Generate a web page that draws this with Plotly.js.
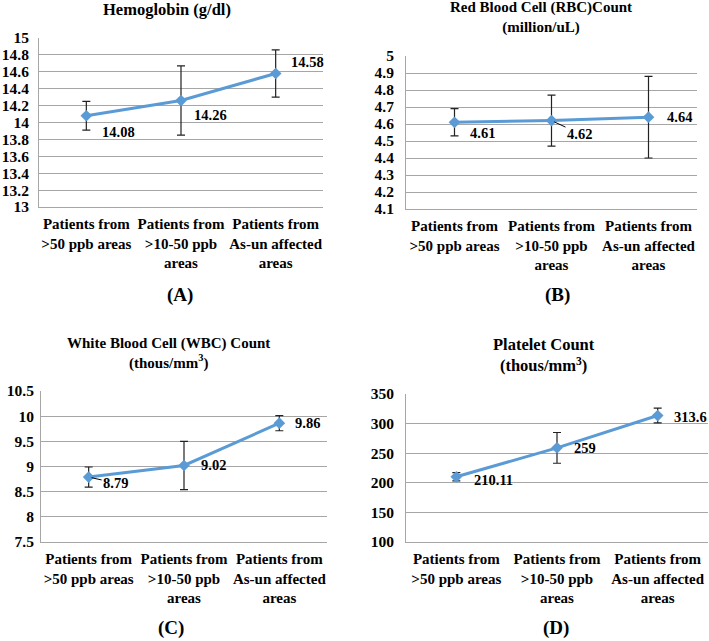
<!DOCTYPE html>
<html>
<head>
<meta charset="utf-8">
<script src="https://cdn.plot.ly/plotly-3.0.1.min.js"></script>
<style>html,body{margin:0;padding:0;background:#fff;}#chart{width:709px;height:641px;}</style>
</head>
<body>
<div id="chart"></div>
<script>
// ---- data ----
const categories = ["Patients from<br>&gt;50 ppb areas", "Patients from<br>&gt;10-50 ppb<br>areas", "Patients from<br>As-un affected<br>areas"];
const hemoglobin = [14.08, 14.26, 14.58];
const hemoglobinErr = [0.17, 0.41, 0.28];
const rbc = [4.61, 4.62, 4.64];
const rbcErr = [0.08, 0.15, 0.24];
const wbc = [8.79, 9.02, 9.86];
const wbcErr = [0.20, 0.48, 0.15];
const platelet = [210.11, 259, 313.6];
const plateletErr = [7, 26, 12.5];
const titles = ["Hemoglobin (g/dl)", "Red Blood Cell (RBC)Count<br>(million/uL)", "White Blood Cell (WBC) Count<br>(thous/mm<sup>3</sup>)", "Platelet Count<br>(thous/mm<sup>3</sup>)"];
const panelLabels = ["(A)", "(B)", "(C)", "(D)"];

// ---- styles ----
const W = 709, H = 641;
const FAM = 'Liberation Serif, Times New Roman, serif';
const LINE = '#5B9BD5';
const GRID = '#A6A6A6';
const px = v => v / W;
const py = v => 1 - v / H;

const panels = [
  {vals: hemoglobin, err: hemoglobinErr, range: [13, 15], dtick: 0.2, dom: {x: [39, 323], y: [38, 207]}, title: {x: 167, y: 10, size: 16.5}, label: {x: 180, y: 295}, ystand: 6,
   lab: [{dx: 14, dy: -16.5}, {dx: 11, dy: -14.5}, {dx: 13, dy: 11}]},
  {vals: rbc, err: rbcErr, range: [4.1, 5], dtick: 0.1, dom: {x: [406, 697], y: [56, 209]}, title: {x: 541, y: 17.5, size: 15}, label: {x: 557, y: 295}, ystand: 8,
   lab: [{dx: 13, dy: -11}, {arrow: true, ax: 28, ay: 13}, {dx: 16, dy: 0}]},
  {vals: wbc, err: wbcErr, range: [7.5, 10.5], dtick: 0.5, dom: {x: [41, 327], y: [391, 542]}, title: {x: 168, y: 353.5, size: 15}, label: {x: 171, y: 628}, ystand: 3,
   lab: [{arrow: true, ax: 27, ay: 6}, {dx: 15, dy: 0}, {dx: 14, dy: 0}]},
  {vals: platelet, err: plateletErr, range: [100, 350], dtick: 50, dom: {x: [406, 708], y: [394, 542]}, title: {x: 544, y: 354.5, size: 16.5}, label: {x: 556, y: 628}, ystand: 8,
   lab: [{dx: 16, dy: -3.5}, {dx: 15, dy: 0}, {dx: 14, dy: -1}]}
];

const data = [];
const layout = {
  width: W, height: H,
  margin: {l: 0, r: 0, t: 0, b: 0},
  paper_bgcolor: '#fff', plot_bgcolor: '#fff',
  showlegend: false, hovermode: false,
  font: {family: FAM, color: '#000'},
  annotations: []
};

panels.forEach((p, i) => {
  const s = i === 0 ? '' : String(i + 1);
  const xa = 'x' + s, ya = 'y' + s;
  data.push({
    type: 'scatter', mode: 'lines+markers',
    x: categories, y: p.vals, xaxis: xa, yaxis: ya,
    line: {color: LINE, width: 3},
    marker: {symbol: 'diamond', size: 9, color: LINE},
    error_y: {type: 'data', array: p.err, visible: true, color: '#222', thickness: 1.2, width: 4}
  });
  layout['xaxis' + s] = {
    domain: [px(p.dom.x[0]), px(p.dom.x[1])], anchor: ya,
    type: 'category', range: [-0.5, 2.5],
    showgrid: false, zeroline: false, showline: true, linecolor: GRID, linewidth: 1,
    ticks: '', ticklabelstandoff: 3,
    tickfont: {family: FAM, size: 15, weight: 'bold', color: '#000'}, fixedrange: true
  };
  layout['yaxis' + s] = {
    domain: [py(p.dom.y[1]), py(p.dom.y[0])], anchor: xa,
    range: p.range, dtick: p.dtick, tick0: p.range[0],
    showgrid: true, gridcolor: GRID, gridwidth: 1, zeroline: false,
    showline: true, linecolor: GRID, linewidth: 1,
    ticks: '', ticklabelstandoff: p.ystand,
    tickfont: {family: FAM, size: 15.5, weight: 'bold', color: '#000'}, fixedrange: true
  };
  // value labels
  p.vals.forEach((v, k) => {
    const o = p.lab[k];
    const a = {xref: xa, yref: ya, x: categories[k], y: v, text: String(v),
      font: {family: FAM, size: 14.5, weight: 'bold', color: '#000'}};
    if (o.arrow) {
      Object.assign(a, {showarrow: true, arrowhead: 0, arrowwidth: 1, arrowcolor: '#000', ax: o.ax, ay: o.ay, standoff: 3});
    } else {
      Object.assign(a, {showarrow: false, xanchor: 'left', xshift: o.dx, yshift: o.dy});
    }
    layout.annotations.push(a);
  });
  // title
  layout.annotations.push({xref: 'paper', yref: 'paper', x: px(p.title.x), y: py(p.title.y), xanchor: 'center', yanchor: 'middle',
    text: titles[i], showarrow: false, font: {family: FAM, size: p.title.size, weight: 'bold', color: '#000'}});
  // panel label
  layout.annotations.push({xref: 'paper', yref: 'paper', x: px(p.label.x), y: py(p.label.y), xanchor: 'center', yanchor: 'middle',
    text: panelLabels[i], showarrow: false, font: {family: FAM, size: 19, weight: 'bold', color: '#000'}});
});

Plotly.newPlot('chart', data, layout, {staticPlot: true, displayModeBar: false});
</script>
</body>
</html>
